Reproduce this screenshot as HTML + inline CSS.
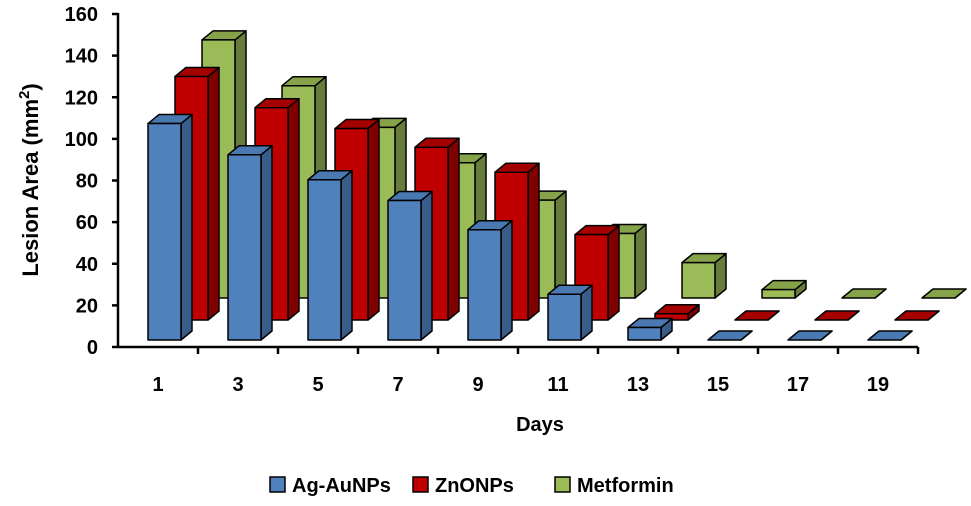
<!DOCTYPE html>
<html><head><meta charset="utf-8"><style>
body{margin:0;background:#fff;}
svg text{font-family:"Liberation Sans",Arial,sans-serif;font-weight:bold;fill:#000;}
</style></head><body>
<svg id="chart" width="971" height="501" viewBox="0 0 971 501" xmlns="http://www.w3.org/2000/svg">
<g id="bars"></g>
<g id="axes"></g>
<text transform="translate(38,180) rotate(-90)" text-anchor="middle" font-size="22">Lesion Area (mm<tspan font-size="15" dy="-9">2</tspan><tspan dy="9">)</tspan></text>
<text x="540" y="431" text-anchor="middle" font-size="20">Days</text>
<g>
 <g><rect x="270" y="477" width="15" height="15" fill="#4f81bd" stroke="#000" stroke-width="1.5"/><text x="292" y="492" font-size="20">Ag-AuNPs</text></g>
 <g><rect x="413" y="477" width="15" height="15" fill="#c00000" stroke="#000" stroke-width="1.5"/><text x="435" y="492" font-size="20">ZnONPs</text></g>
 <g><rect x="555" y="477" width="15" height="15" fill="#9bbb59" stroke="#000" stroke-width="1.5"/><text x="577" y="492" font-size="20">Metformin</text></g>
</g>
</svg>
<script>
const categories = ["1","3","5","7","9","11","13","15","17","19"];
const agAuNPs = [104, 89, 77, 67, 53, 22, 6, 0, 0, 0];
const znONPs = [117, 102, 92, 83, 71, 41, 3, 0, 0, 0];
const metformin = [124, 102, 82, 65, 47, 31, 17, 4, 0, 0];
const yTicks = [0, 20, 40, 60, 80, 100, 120, 140, 160];

const NS = "http://www.w3.org/2000/svg";
const x0 = 118, y0 = 347, yTop = 14, step = 80, pxPerUnit = (y0 - yTop) / 160;
const yScale = v => v * pxPerUnit;
const xCat = i => x0 + step * i + 30;
const series = [
  {name:"metformin", data:metformin, off:54, base:298, front:"#9bbb59", side:"#677d3b", top:"#86a34a"},
  {name:"znonps", data:znONPs, off:27, base:320, front:"#c00000", side:"#800000", top:"#a50000"},
  {name:"ag-aunps", data:agAuNPs, off:0, base:340, front:"#4f81bd", side:"#385d8a", top:"#4a78b0"}
];
const bw = 33, dx = 11, dy = 9;
const barsG = document.getElementById('bars');
function poly(pts, fill, name){
  const p = document.createElementNS(NS, 'polygon');
  p.setAttribute('points', pts.map(q => q.join(',')).join(' '));
  p.setAttribute('fill', fill);
  p.setAttribute('stroke', '#000');
  p.setAttribute('stroke-width', '1.5');
  p.setAttribute('stroke-linejoin', 'round');
  
  
  return p;
}
series.forEach(s => {
  s.data.forEach((v, i) => {
    const g = document.createElementNS(NS, 'g');
    
    
    const xl = xCat(i) + s.off, xr = xl + bw;
    const yb = s.base, yt = s.base - yScale(v);
    g.appendChild(poly([[xr,yb],[xr+dx,yb-dy],[xr+dx,yt-dy],[xr,yt]], s.side, 'bar-side'));
    g.appendChild(poly([[xl,yt],[xr,yt],[xr+dx,yt-dy],[xl+dx,yt-dy]], s.top, 'bar-top'));
    if (v > 0) g.appendChild(poly([[xl,yb],[xr,yb],[xr,yt],[xl,yt]], s.front, 'bar-front'));
    barsG.appendChild(g);
  });
});
const axesG = document.getElementById('axes');
function line(x1,y1,x2,y2,name){
  const l = document.createElementNS(NS,'line');
  l.setAttribute('x1',x1);l.setAttribute('y1',y1);l.setAttribute('x2',x2);l.setAttribute('y2',y2);
  l.setAttribute('stroke','#000');l.setAttribute('stroke-width','2.5');
  
  
  axesG.appendChild(l);
}
function text(x,y,t,anchor,name){
  const e = document.createElementNS(NS,'text');
  e.setAttribute('x',x);e.setAttribute('y',y);e.setAttribute('text-anchor',anchor);e.setAttribute('font-size','20');
  e.textContent = t;
  
  
  axesG.appendChild(e);
}
line(x0, yTop - 1, x0, y0 + 1, 'y-axis-line');
line(x0, y0, x0 + step * categories.length, y0, 'x-axis-line');
yTicks.forEach(t => {
  const y = y0 - yScale(t);
  line(x0 - 6, y, x0, y, 'y-tick');
  text(x0 - 20, y + 7, String(t), 'end', 'y-tick-label');
});
categories.forEach((c, i) => {
  line(x0 + step * (i + 1), y0, x0 + step * (i + 1), y0 + 7, 'x-tick');
  text(x0 + step * i + step / 2, y0 + 44, c, 'middle', 'x-tick-label');
});
</script>
</body></html>
